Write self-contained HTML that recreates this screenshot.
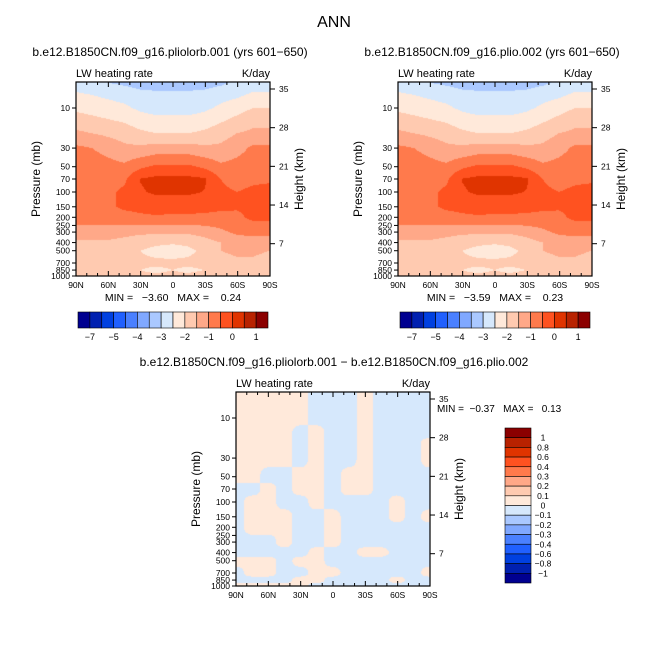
<!DOCTYPE html>
<html><head><meta charset="utf-8"><style>
body{margin:0;background:#fff;}
#wrap{position:relative;width:668px;height:668px;overflow:hidden;font-family:"Liberation Sans",sans-serif;}
canvas{position:absolute;}
svg{position:absolute;left:0;top:0;}
text{white-space:pre;}
</style></head><body>
<div id="wrap">
<canvas id="c1" width="194" height="194" style="left:76px;top:82px"></canvas>
<canvas id="c2" width="194" height="194" style="left:398px;top:82px"></canvas>
<canvas id="c3" width="194" height="194" style="left:236px;top:392px"></canvas>
<svg id="s" width="668" height="668"></svg>
</div>
<script>
const lats=['90N','75N','60N','45N','30N','15N','0','15S','30S','45S','60S','75S','90S'];
const plevs=[5,7,10,15,20,30,50,70,100,150,200,300,400,500,700,850,1000];
const field1=[
[-2.8,-2.9,-3.0,-3.1,-3.2,-3.2,-3.2,-3.2,-3.2,-3.1,-2.9,-2.8,-2.8],
[-2.4,-2.5,-2.6,-2.7,-2.85,-2.9,-2.9,-2.9,-2.85,-2.7,-2.6,-2.4,-2.4],
[-2.1,-2.2,-2.3,-2.4,-2.6,-2.7,-2.7,-2.7,-2.6,-2.4,-2.2,-2.0,-2.0],
[-1.7,-1.8,-1.9,-2.0,-2.2,-2.3,-2.3,-2.3,-2.2,-2.0,-1.8,-1.6,-1.6],
[-1.4,-1.5,-1.6,-1.7,-1.9,-2.0,-2.0,-2.0,-1.9,-1.7,-1.5,-1.4,-1.4],
[-0.9,-1.0,-1.2,-1.4,-1.4,-1.3,-1.3,-1.3,-1.4,-1.4,-1.2,-0.9,-0.9],
[-0.7,-0.7,-0.8,-0.9,-0.6,-0.4,-0.4,-0.4,-0.6,-0.9,-0.8,-0.7,-0.7],
[-0.6,-0.6,-0.7,-0.6,0.02,0.12,0.12,0.12,0.06,-0.5,-0.7,-0.6,-0.6],
[-0.55,-0.55,-0.6,-0.4,-0.05,0.08,0.08,0.08,-0.02,-0.4,-0.5,-0.4,-0.3],
[-0.7,-0.7,-0.6,-0.4,-0.35,-0.3,-0.3,-0.3,-0.35,-0.4,-0.45,-0.4,-0.35],
[-0.9,-0.9,-0.8,-0.7,-0.6,-0.55,-0.6,-0.6,-0.6,-0.65,-0.6,-0.4,-0.4],
[-1.1,-1.1,-1.2,-1.3,-1.4,-1.4,-1.4,-1.4,-1.3,-1.1,-0.9,-0.8,-0.8],
[-1.6,-1.6,-1.6,-1.7,-1.8,-1.9,-1.95,-1.9,-1.7,-1.5,-1.3,-1.3,-1.3],
[-1.7,-1.7,-1.7,-1.8,-2.0,-2.15,-2.2,-2.1,-1.9,-1.5,-1.4,-1.4,-1.5],
[-1.7,-1.7,-1.7,-1.8,-1.9,-1.9,-1.9,-1.9,-1.8,-1.7,-1.6,-1.6,-1.7],
[-1.8,-1.8,-1.8,-1.9,-2.0,-2.1,-2.0,-2.1,-2.0,-1.9,-1.8,-1.8,-1.8],
[-1.6,-1.6,-1.7,-1.8,-1.9,-1.9,-1.9,-1.9,-1.8,-1.7,-1.7,-1.6,-1.6]];
const field2=field1.map(r=>r.slice());
const diffSigns=[
"PPPPPBBBPBBBB","PPPPPBBBPBBBB","PPPPPBBBPBBBB","PPPPBPBBPBBBB","PPPPBPBBPBBBP","PPPPBPBBPBBBP",
"PPBBPPBPPBBBB","BBPBPPBPPBBBB","BPPBBPBBBBPBB","BPPPBBPBBBPBP","BPPPBBPBBBBBB","BBBPBBPBBBBBB",
"BBBBBPBBPPBBB","PPPBPPBBBBBBB","BPPBBPPBBBBBP","BBBBPPBBBBPBB","PPPPPBBBBBBBB"];
const field3=diffSigns.map(r=>r.split('').map(c=>c==='P'?0.05:-0.05));
const levelsTop=[-7,-6,-5,-4.5,-4,-3.5,-3,-2.5,-2,-1.5,-1,-0.5,0,0.5,1];
const labelsTop=['-7','-5','-4','-3','-2','-1','0','1'];
const levelsDiff=[-1,-0.8,-0.6,-0.4,-0.3,-0.2,-0.1,0,0.1,0.2,0.3,0.4,0.6,0.8,1];
const colors=['#000090','#0020b0','#0040e0','#2060ff','#4a80ff','#80a8ff','#aac8ff','#d6e8fc','#ffe9da','#ffcab0','#ffa888','#ff7a4c','#ff5220','#e03400','#b82200','#8b0000'];
const heights=[7,14,21,28,35];
const pticks=[10,30,50,70,100,150,200,250,300,400,500,700,850,1000];
const NS='http://www.w3.org/2000/svg';
const svg=document.getElementById('s');
const W=194,H=194;
function yP(p){return H-(3-Math.log10(p))*84;}
function yKm(k){return 161.7-(k-7)*5.525;}
function colorFor(v,lev){let i=0;while(i<lev.length&&v>=lev[i])i++;return colors[i];}
function smooth(t){return t*t*(3-2*t);}
function sample(f,x,y,sm){
  const fc=x/(W-1)*(lats.length-1);const c0=Math.min(Math.floor(fc),lats.length-2);let tx=fc-c0;
  let lp=3-(H-y)/84;const lps=plevs.map(p=>Math.log10(p));
  if(lp<lps[0])lp=lps[0];let r=0;while(r<lps.length-2&&lp>lps[r+1])r++;
  let ty=Math.min(1,(lp-lps[r])/(lps[r+1]-lps[r]));
  if(sm){tx=smooth(tx);ty=smooth(ty);}
  const a=f[r][c0]*(1-tx)+f[r][c0+1]*tx,b=f[r+1][c0]*(1-tx)+f[r+1][c0+1]*tx;
  return a*(1-ty)+b*ty;}
function fill(id,f,lev,sm){const ctx=document.getElementById(id).getContext('2d');
  for(let y=0;y<H;y++)for(let x=0;x<W;x++){ctx.fillStyle=colorFor(sample(f,x+0.5,y+0.5,sm),lev);ctx.fillRect(x,y,1,1);}}
function el(tag,attrs,txt){const e=document.createElementNS(NS,tag);for(const k in attrs)e.setAttribute(k,attrs[k]);if(txt!==undefined)e.textContent=txt;svg.appendChild(e);return e;}
function txt(x,y,s,size,anchor,name,extra){const e=el('text',Object.assign({x:x,y:y,'font-size':size,'text-anchor':anchor||'middle','font-family':'Liberation Sans, sans-serif',fill:'#000'},extra||{}),s);
  
  return e;}
function line(x1,y1,x2,y2,name,w){const e=el('line',{x1:x1,y1:y1,x2:x2,y2:y2,stroke:'#000','stroke-width':w||1});
  
  return e;}
function axes(ox,oy){
  const r=el('rect',{x:ox,y:oy,width:W,height:H,fill:'none',stroke:'#000','stroke-width':1.2});
  
  
  for(let d=0;d<=180;d+=10){const x=ox+d/180*W;const L=d%30===0?5:3;
    line(x,oy,x,oy+L,'top-tick');line(x,oy+H,x,oy+H-L,'bottom-tick');}
  const lab=['90N','60N','30N','0','30S','60S','90S'];
  lab.forEach((s,i)=>txt(ox+i*W/6,oy+H+12,s,8.5,'middle','x-tick-label'));
  pticks.forEach(p=>{const y=oy+yP(p);line(ox,y,ox-4,y,'pressure-tick');txt(ox-6,y+3,String(p),8.5,'end','pressure-tick-label');});
  heights.forEach(k=>{const y=oy+yKm(k);line(ox+W,y,ox+W+5,y,'height-tick');txt(ox+W+9,y+3,String(k),8.5,'start','height-tick-label');});
  txt(ox-36,oy+97,'Pressure (mb)',12,'middle','y-axis-title',{transform:`rotate(-90 ${ox-36} ${oy+97})`});
  txt(ox+W+33,oy+97,'Height (km)',12,'middle','right-axis-title',{transform:`rotate(-90 ${ox+W+33} ${oy+97})`});
  txt(ox,oy-5,'LW heating rate',11,'start','field-label');
  txt(ox+W,oy-5,'K/day',11,'end','units-label');}
function hbar(x0,y0,w,h){const bw=w/16;
  colors.forEach((c,i)=>{const r=el('rect',{x:x0+i*bw,y:y0,width:bw,height:h,fill:c,stroke:'#000','stroke-width':0.6});
    
    });
  labelsTop.forEach((s,i)=>txt(x0+(1+2*i)*bw,y0+h+12,s.replace('-','\u2212'),9,'middle','colorbar-label'));}
function vbar(x0,y0,w,h){const bh=h/16;
  colors.slice().reverse().forEach((c,i)=>{const r=el('rect',{x:x0,y:y0+i*bh,width:w,height:bh,fill:c,stroke:'#000','stroke-width':0.6});
    
    });
  levelsDiff.slice().reverse().forEach((v,i)=>txt(x0+w+12,y0+(i+1)*bh+3,String(v).replace('-','\u2212'),8.5,'middle','colorbar-label'));}
fill('c1',field1,levelsTop,false);fill('c2',field2,levelsTop,false);fill('c3',field3,levelsDiff,true);
axes(76,82);axes(398,82);axes(236,392);
txt(334,27,'ANN',16,'middle','figure-title');
txt(170,56,'b.e12.B1850CN.f09_g16.pliolorb.001 (yrs 601\u2212650)',12,'middle','left-panel-title');
txt(492,56,'b.e12.B1850CN.f09_g16.plio.002 (yrs 601\u2212650)',12,'middle','right-panel-title');
txt(334,366,'b.e12.B1850CN.f09_g16.pliolorb.001 \u2212 b.e12.B1850CN.f09_g16.plio.002',12,'middle','diff-panel-title');
txt(173,301,'MIN =   \u22123.60   MAX =    0.24',10.5,'middle','left-min-max');
txt(495,301,'MIN =   \u22123.59   MAX =    0.23',10.5,'middle','right-min-max');
txt(437,412,'MIN =  \u22120.37   MAX =   0.13',10,'start','diff-min-max');
hbar(78,312,190,16);hbar(400,312,190,16);
vbar(505,428,26,155);
</script>
</body></html>
